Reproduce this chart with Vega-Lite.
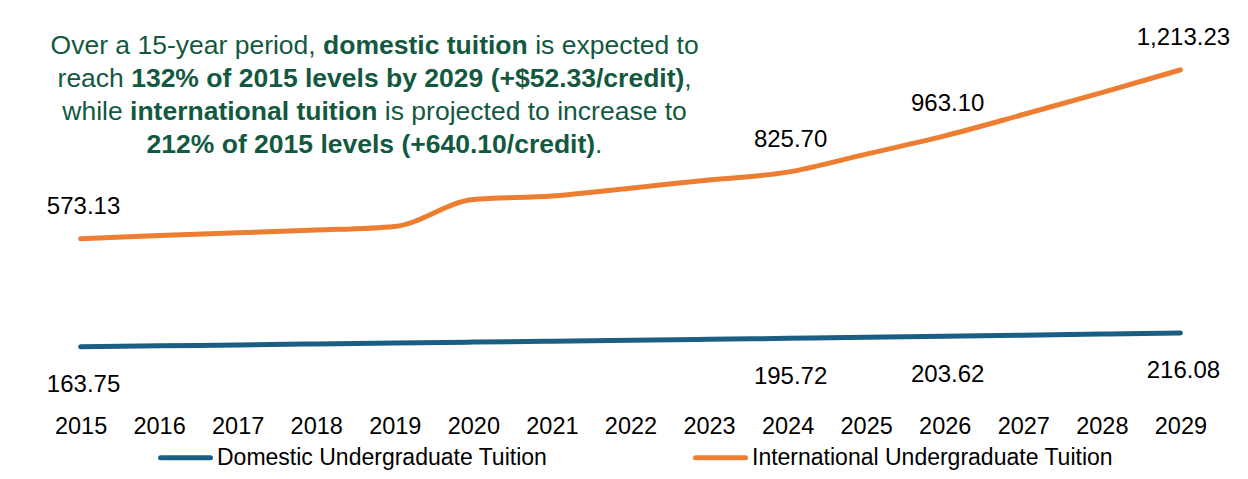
{
  "$schema": "https://vega.github.io/schema/vega-lite/v6.json",
  "width": 1246,
  "height": 376,
  "autosize": {"type": "none"},
  "padding": {"left": 2, "top": 14, "right": 0, "bottom": 89},
  "background": "white",
  "config": {"view": {"stroke": null}, "font": "Liberation Sans"},
  "datasets": {
    "tuition": [
      {"year": 2015, "series": "Domestic Undergraduate Tuition", "value": 163.75},
      {"year": 2016, "series": "Domestic Undergraduate Tuition", "value": 167.3},
      {"year": 2017, "series": "Domestic Undergraduate Tuition", "value": 170.8},
      {"year": 2018, "series": "Domestic Undergraduate Tuition", "value": 174.4},
      {"year": 2019, "series": "Domestic Undergraduate Tuition", "value": 177.9},
      {"year": 2020, "series": "Domestic Undergraduate Tuition", "value": 181.5},
      {"year": 2021, "series": "Domestic Undergraduate Tuition", "value": 185.1},
      {"year": 2022, "series": "Domestic Undergraduate Tuition", "value": 188.6},
      {"year": 2023, "series": "Domestic Undergraduate Tuition", "value": 192.2},
      {"year": 2024, "series": "Domestic Undergraduate Tuition", "value": 195.72},
      {"year": 2025, "series": "Domestic Undergraduate Tuition", "value": 199.7},
      {"year": 2026, "series": "Domestic Undergraduate Tuition", "value": 203.62},
      {"year": 2027, "series": "Domestic Undergraduate Tuition", "value": 207.8},
      {"year": 2028, "series": "Domestic Undergraduate Tuition", "value": 211.9},
      {"year": 2029, "series": "Domestic Undergraduate Tuition", "value": 216.08},
      {"year": 2015, "series": "International Undergraduate Tuition", "value": 573.13},
      {"year": 2016, "series": "International Undergraduate Tuition", "value": 586},
      {"year": 2017, "series": "International Undergraduate Tuition", "value": 596},
      {"year": 2018, "series": "International Undergraduate Tuition", "value": 606},
      {"year": 2019, "series": "International Undergraduate Tuition", "value": 620},
      {"year": 2020, "series": "International Undergraduate Tuition", "value": 722},
      {"year": 2021, "series": "International Undergraduate Tuition", "value": 735},
      {"year": 2022, "series": "International Undergraduate Tuition", "value": 765},
      {"year": 2023, "series": "International Undergraduate Tuition", "value": 796},
      {"year": 2024, "series": "International Undergraduate Tuition", "value": 825.70},
      {"year": 2025, "series": "International Undergraduate Tuition", "value": 894},
      {"year": 2026, "series": "International Undergraduate Tuition", "value": 963.10},
      {"year": 2027, "series": "International Undergraduate Tuition", "value": 1044},
      {"year": 2028, "series": "International Undergraduate Tuition", "value": 1127},
      {"year": 2029, "series": "International Undergraduate Tuition", "value": 1213.23}
    ],
    "noteRegular": [
      {"year": 2014.6181, "value": 1273.4, "text": "Over a 15-year period,"},
      {"year": 2020.7867, "value": 1273.4, "text": "is expected to"},
      {"year": 2014.7072, "value": 1148.3, "text": "reach"},
      {"year": 2022.6846, "value": 1148.3, "text": ","},
      {"year": 2014.7683, "value": 1023.3, "text": "while"},
      {"year": 2018.8735, "value": 1023.3, "text": "is projected to increase to"},
      {"year": 2021.5491, "value": 898.2, "text": "."}
    ],
    "noteBold": [
      {"year": 2018.0868, "value": 1273.4, "text": "domestic tuition"},
      {"year": 2015.6441, "value": 1148.3, "text": "132% of 2015 levels by 2029 (+$52.33/credit)"},
      {"year": 2015.6301, "value": 1023.3, "text": "international tuition"},
      {"year": 2015.8401, "value": 898.2, "text": "212% of 2015 levels (+640.10/credit)"}
    ]
  },
  "encoding": {
    "x": {"field": "year", "type": "quantitative", "scale": {"domain": [2014, 2029.8605], "nice": false, "zero": false}},
    "y": {"field": "value", "type": "quantitative", "scale": {"domain": [0, 1425], "nice": false, "zero": false}, "axis": null}
  },
  "layer": [
    {
      "mark": {"type": "rule", "color": "#000000", "strokeWidth": 2},
      "encoding": {
        "x": {"datum": 2014.06, "type": "quantitative"},
        "x2": {"datum": 2029.86},
        "y": {"datum": 1425, "type": "quantitative"}
      }
    },
    {
      "mark": {"type": "rule", "color": "#D9D9D9", "strokeWidth": 2},
      "encoding": {
        "x": {"datum": 2014.5, "type": "quantitative"},
        "x2": {"datum": 2029.5},
        "y": {"datum": 0, "type": "quantitative"}
      }
    },
    {
      "data": {"name": "tuition"},
      "mark": {"type": "line", "strokeWidth": 5, "strokeCap": "round", "interpolate": "monotone"},
      "encoding": {
        "x": {
          "field": "year", "type": "quantitative",
          "axis": {
            "title": null,
            "values": [2015, 2016, 2017, 2018, 2019, 2020, 2021, 2022, 2023, 2024, 2025, 2026, 2027, 2028, 2029],
            "format": "d", "ticks": false, "domain": false, "grid": false,
            "labelFont": "Liberation Sans", "labelFontSize": 23.5, "labelColor": "#000000",
            "labelBaseline": "alphabetic", "labelPadding": 43, "labelFlush": false, "labelOverlap": false
          }
        },
        "color": {
          "field": "series", "type": "nominal",
          "scale": {"domain": ["Domestic Undergraduate Tuition", "International Undergraduate Tuition"], "range": ["#1B5E83", "#ED7D31"]},
          "legend": {
            "orient": "none", "legendX": 156, "legendY": 416, "direction": "horizontal", "title": null,
            "symbolType": "stroke", "symbolSize": 2500, "symbolStrokeWidth": 5,
            "labelFont": "Liberation Sans", "labelFontSize": 23, "labelColor": "#000000", "labelLimit": 0,
            "columnPadding": 137, "labelOffset": 4, "padding": 0,
            "encode": {"symbols": {"update": {"strokeCap": {"value": "round"}}}}
          }
        }
      }
    },
    {
      "data": {"name": "tuition"},
      "transform": [
        {"filter": {"field": "series", "equal": "International Undergraduate Tuition"}},
        {"filter": {"field": "year", "oneOf": [2015, 2024, 2026, 2029]}}
      ],
      "mark": {"type": "text", "align": "center", "baseline": "alphabetic", "dx": 3, "dy": -25, "font": "Liberation Sans", "fontSize": 24, "color": "#000000"},
      "encoding": {"text": {"field": "value", "type": "quantitative", "format": ",.2f"}}
    },
    {
      "data": {"name": "tuition"},
      "transform": [
        {"filter": {"field": "series", "equal": "Domestic Undergraduate Tuition"}},
        {"filter": {"field": "year", "oneOf": [2015, 2024, 2026, 2029]}}
      ],
      "mark": {"type": "text", "align": "center", "baseline": "alphabetic", "dx": 3, "dy": 45.5, "font": "Liberation Sans", "fontSize": 24, "color": "#000000"},
      "encoding": {"text": {"field": "value", "type": "quantitative", "format": ",.2f"}}
    },
    {
      "data": {"name": "noteRegular"},
      "mark": {"type": "text", "align": "left", "baseline": "alphabetic", "font": "Liberation Sans", "fontSize": 26.5, "color": "#12593F"},
      "encoding": {"text": {"field": "text", "type": "nominal"}}
    },
    {
      "data": {"name": "noteBold"},
      "mark": {"type": "text", "align": "left", "baseline": "alphabetic", "font": "Liberation Sans", "fontSize": 26.5, "fontWeight": "bold", "color": "#12593F"},
      "encoding": {"text": {"field": "text", "type": "nominal"}}
    }
  ]
}
